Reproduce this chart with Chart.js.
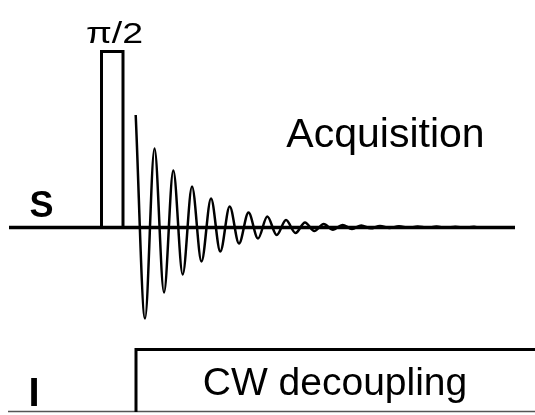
<!DOCTYPE html>
<html lang="en">
<head>
<meta charset="utf-8">
<title>Pulse sequence</title>
<style>
  html, body { margin: 0; padding: 0; background: #fff; }
  #wrap { position: relative; width: 535px; height: 415px; }
</style>
</head>
<body>
<div id="wrap"><canvas id="seq"></canvas></div>
<script src="https://cdn.jsdelivr.net/npm/chart.js"></script>
<script>
// layout channels, in picture units (x: time, y: from top)
const sBaseline = [{x: 9, y: 227.5}, {x: 515, y: 227.5}];
const pulse = [{x: 101.5, y: 227.5}, {x: 101.5, y: 51.5}, {x: 123, y: 51.5}, {x: 123, y: 227.5}];
const decoupling = [{x: 136, y: 412}, {x: 136, y: 349.5}, {x: 535, y: 349.5}];
const iBaseline = [{x: 8, y: 411.5}, {x: 535, y: 411.5}];

// FID extrema: time and amplitude above the S baseline
const fidTime = [135.7, 145, 154.5, 164, 173.3, 182.7, 192, 201.5, 211, 220.3,
  229.7, 239, 248.5, 258, 267.3, 276.7, 286, 295.5, 305, 314.3,
  323.7, 333, 342.5, 352, 361.3, 370.7, 380, 389.5, 399, 408.3,
  417.7, 427, 436.5, 446, 455.3, 464.7, 474, 478];
const fidAmp = [112.5, -91, 79, -65, 57, -47, 41, -34, 29, -24,
  21, -16, 15, -11, 11, -7.5, 7.5, -5.5, 5, -3.5,
  3.5, -2.2, 2.6, -1.4, 2, -0.8, 1.4, -0.5, 1.2, -0.3,
  1, -0.2, 0.9, -0.2, 0.8, -0.1, 0.7, 0];

const labels = [
  {text: 'π/2', x: 114.5, y: 43, font: '30px "Liberation Sans", Arial, sans-serif', stretch: 1.25},
  {text: 'S', x: 41.5, y: 217, font: 'bold 36px "Liberation Sans", Arial, sans-serif'},
  {text: 'Acquisition', x: 385.5, y: 147, font: '41px "Liberation Sans", Arial, sans-serif'},
  {text: 'I', x: 34, y: 406, font: 'bold 40px "Liberation Sans", Arial, sans-serif'},
  {text: 'CW decoupling', x: 335, y: 395, font: '39px "Liberation Sans", Arial, sans-serif'}
];

const fid = fidTime.map((t, i) => ({x: t, y: fidAmp[i]}));

const textPlugin = {
  id: 'seqText',
  afterDatasetsDraw(chart) {
    const ctx = chart.ctx;
    const xs = chart.scales.x, ys = chart.scales.y;
    labels.forEach(l => {
      ctx.save();
      ctx.fillStyle = '#000';
      ctx.font = l.font;
      ctx.textAlign = 'center';
      ctx.textBaseline = 'alphabetic';
      ctx.translate(xs.getPixelForValue(l.x), ys.getPixelForValue(l.y));
      if (l.stretch) ctx.scale(l.stretch, 1);
      ctx.fillText(l.text, 0, 0);
      ctx.restore();
    });
  }
};

function line(data, width, color, extra) {
  return Object.assign({
    data: data, borderColor: color, borderWidth: width,
    pointRadius: 0, fill: false, tension: 0, clip: false,
    borderJoinStyle: 'miter', yAxisID: 'y'
  }, extra || {});
}

new Chart(document.getElementById('seq'), {
  type: 'line',
  data: {
    datasets: [
      line(sBaseline, 3.5, '#000'),
      line(pulse, 3, '#000'),
      line(fid, 2.5, '#000', {yAxisID: 'amp', tension: 0.4, cubicInterpolationMode: 'monotone'}),
      line(decoupling, 3, '#000'),
      line(iBaseline, 1.5, '#555')
    ]
  },
  options: {
    responsive: true,
    maintainAspectRatio: false,
    animation: false,
    layout: {padding: 0},
    plugins: {legend: {display: false}, tooltip: {enabled: false}},
    scales: {
      x: {type: 'linear', min: 0, max: 535, display: false},
      y: {type: 'linear', min: 0, max: 415, reverse: true, display: false},
      amp: {type: 'linear', min: -187.5, max: 227.5, display: false}
    }
  },
  plugins: [textPlugin]
});
</script>
</body>
</html>
